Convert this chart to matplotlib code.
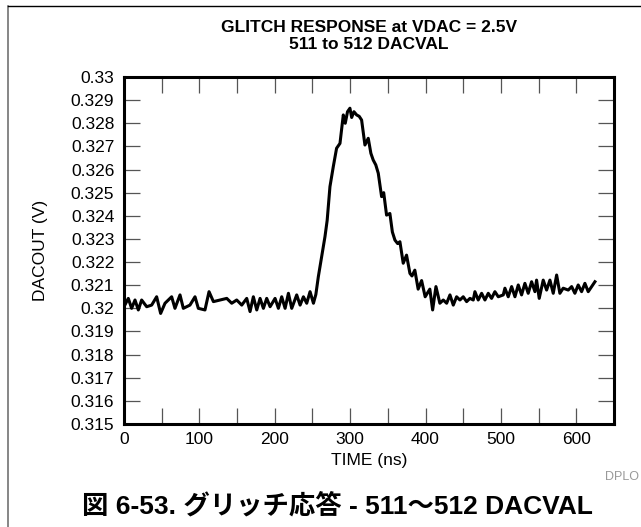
import matplotlib
matplotlib.use("Agg")
import matplotlib.pyplot as plt
from matplotlib.lines import Line2D
from matplotlib.ticker import FixedLocator, FixedFormatter

# Glitch response samples: time (ns) and DAC output (V)
time_ns = [
    0.0, 5.7, 10.1, 14.6, 19.0, 23.4, 30.1, 36.7, 43.3, 48.6, 54.4, 63.2, 67.6,
    74.3, 78.7, 87.5, 94.2, 98.6, 107.4, 112.8, 118.6, 127.4, 136.3, 142.9,
    149.5, 156.2, 162.8, 167.2, 171.6, 176.1, 180.5, 184.9, 189.3, 193.8,
    200.4, 204.8, 209.2, 213.7, 218.1, 222.5, 229.1, 233.6, 238.0, 242.4,
    246.8, 251.3,
    254.5, 257.8, 261.5, 266.6, 269.5, 273.2, 277.6, 282.0, 286.5, 290.9,
    293.5, 296.5, 299.7, 302.0, 305.0, 308.6, 312.0, 315.2, 319.6, 324.0,
    327.5, 330.6, 334.0, 337.3, 341.7, 344.5, 348.3, 352.7, 356.0, 359.4,
    363.0, 366.0, 368.3, 370.4, 374.8, 379.3, 382.0, 385.8, 390.2, 394.8,
    399.5, 405.7, 409.4, 413.8, 419.0,
    423.5, 428.0, 432.4, 436.8, 441.2, 445.6, 450.0, 454.5, 458.9, 463.3,
    465.5, 469.9, 474.4, 478.8, 483.2, 487.6, 492.0, 496.5, 503.1, 505.3,
    509.7, 514.2, 518.6, 523.0, 527.4, 531.8, 536.2, 540.7, 545.1, 547.3,
    550.8, 556.1, 560.6, 565.0, 569.4, 573.9, 578.2, 582.6, 589.3, 593.8,
    598.1, 602.5, 607.0, 611.4, 615.8, 620.3, 624.7,
]
dacout_v = [
    0.32007, 0.32043, 0.32000, 0.32036, 0.31993, 0.32036, 0.32007, 0.32014,
    0.32050, 0.31978, 0.32022, 0.32050, 0.32000, 0.32058, 0.32000, 0.32014,
    0.32050, 0.32000, 0.31993, 0.32072, 0.32029, 0.32036, 0.32043, 0.32022,
    0.32036, 0.32014, 0.32043, 0.31986, 0.32050, 0.31993, 0.32043, 0.32000,
    0.32043, 0.32007, 0.32043, 0.32000, 0.32050, 0.32000, 0.32065, 0.32000,
    0.32058, 0.32014, 0.32050, 0.32022, 0.32072, 0.32022,
    0.32060, 0.32137, 0.32210, 0.32310, 0.32380, 0.32526, 0.32612, 0.32692,
    0.32713, 0.32836, 0.32800, 0.32850, 0.32865, 0.32825, 0.32850, 0.32836,
    0.32830, 0.32814, 0.32706, 0.32735, 0.32670, 0.32641, 0.32620, 0.32584,
    0.32483, 0.32500, 0.32403, 0.32410, 0.32330, 0.32295, 0.32280, 0.32288,
    0.32238, 0.32195, 0.32230, 0.32151, 0.32140, 0.32165, 0.32083, 0.32120,
    0.32050, 0.32083, 0.31993, 0.32094, 0.32022,
    0.32036, 0.32022, 0.32058, 0.32014, 0.32050, 0.32036, 0.32050, 0.32029,
    0.32043, 0.32036, 0.32072, 0.32036, 0.32065, 0.32036, 0.32065, 0.32043,
    0.32072, 0.32050, 0.32058, 0.32087, 0.32050, 0.32094, 0.32050, 0.32101,
    0.32058, 0.32108, 0.32065, 0.32115, 0.32072, 0.32122, 0.32043, 0.32122,
    0.32079, 0.32122, 0.32065, 0.32144, 0.32065, 0.32087, 0.32079, 0.32094,
    0.32065, 0.32101, 0.32072, 0.32108, 0.32072, 0.32094, 0.32115,
]

x_major = [0, 100, 200, 300, 400, 500, 600]
x_labels = ["0", "100", "200", "300", "400", "500", "600"]
x_minor = [50, 150, 250, 350, 450, 550, 650]
y_ticks = [0.315 + 0.001 * i for i in range(16)]
y_labels = ["0.315", "0.316", "0.317", "0.318", "0.319", "0.32", "0.321",
            "0.322", "0.323", "0.324", "0.325", "0.326", "0.327", "0.328",
            "0.329", "0.33"]

title_lines = "GLITCH RESPONSE at VDAC = 2.5V\n511 to 512 DACVAL"
x_title = "TIME (ns)"
y_title = "DACOUT (V)"
caption = "図 6-53. グリッチ応答 - 511～512 DACVAL"

plt.rcParams["font.family"] = ["Liberation Sans", "Noto Sans CJK JP", "DejaVu Sans"]

W, H = 641, 527
fig = plt.figure(figsize=(W / 100, H / 100), dpi=100)

left, right, top, bottom = 124, 614, 77, 424
ax = fig.add_axes([left / W, 1 - bottom / H, (right - left) / W, (bottom - top) / H])

ax.plot(time_ns, dacout_v, color="black", lw=2.2, solid_joinstyle="round")

ax.set_xlim(0, 650)
ax.set_ylim(0.315, 0.33)

ax.xaxis.set_major_locator(FixedLocator(x_major))
ax.xaxis.set_major_formatter(FixedFormatter(x_labels))
ax.xaxis.set_minor_locator(FixedLocator(x_minor))
ax.yaxis.set_major_locator(FixedLocator(y_ticks))
ax.yaxis.set_major_formatter(FixedFormatter(y_labels))

tick_color = "#555555"
ax.tick_params(which="both", direction="in", length=11.5, width=0.9,
               color=tick_color, top=True, right=True, labelsize=12.5)
ax.tick_params(axis="x", pad=6)
ax.tick_params(axis="y", pad=7)

for sp in ax.spines.values():
    sp.set_linewidth(2.2)
    sp.set_color("black")

# Titles and labels
fig.text(369 / W, 1 - 36 / H, title_lines, ha="center", va="center",
         fontsize=12.5, fontweight="bold", linespacing=1.2)
fig.text(369 / W, 1 - 460 / H, x_title, ha="center", va="center", fontsize=12.5)
fig.text(40 / W, 1 - 250 / H, y_title, ha="center", va="center",
         rotation=90, fontsize=12.5)
fig.text(605 / W, 1 - 477 / H, "DPLO", ha="left", va="center",
         fontsize=9, color="#999999")
fig.text(337 / W, 1 - 506 / H, caption, ha="center", va="center",
         fontsize=19, fontweight="bold")

# Page frame lines
fig.add_artist(Line2D([7.5 / W, 7.5 / W], [0, 1 - 6 / H], transform=fig.transFigure,
                      color="#666666", lw=1.1))
fig.add_artist(Line2D([7.5 / W, 1], [1 - 6 / H, 1 - 6 / H], transform=fig.transFigure,
                      color="black", lw=1.0))

fig.savefig("out.png", dpi=100)
